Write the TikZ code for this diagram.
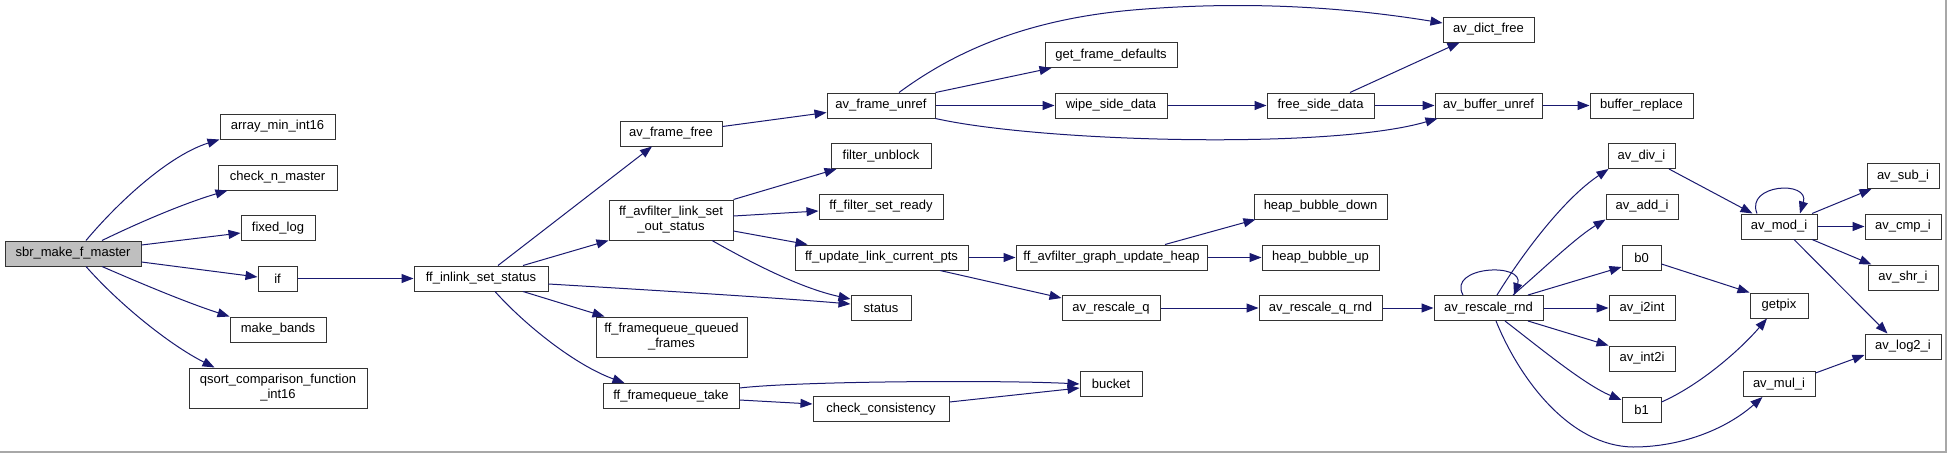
\documentclass[tikz,border=0pt]{standalone}
\usepackage{fontspec}
\setmainfont{Liberation Sans}
\usetikzlibrary{arrows.meta}
\definecolor{edgeblue}{HTML}{191970}
\definecolor{framegray}{HTML}{A8A8A8}
\begin{document}
\begin{tikzpicture}[x=1pt,y=-1pt,
  box/.style={draw=black!80, line width=1pt, fill=white, inner sep=0pt,
    minimum height=25pt, align=center, font=\fontsize{13}{15}\selectfont},
  tall/.style={minimum height=40pt},
  root/.style={fill=black!25},
  edge/.style={draw=edgeblue, line width=1pt, -{Triangle[length=12pt,width=9pt]}}]
\useasboundingbox (0,0) rectangle (1947,453);
\fill[white] (0,0) rectangle (1947,453);
\draw[framegray, line width=1.5pt] (0,452) -- (1946,452) -- (1946,0);

% nodes
\node[box,root,minimum width=136pt] (smf) at (73,253.5) {sbr\_make\_f\_master};
\node[box,minimum width=115pt] (amin) at (277.5,126.5) {array\_min\_int16};
\node[box,minimum width=119pt] (cnm) at (277.5,177.5) {check\_n\_master};
\node[box,minimum width=74pt] (flog) at (278,228) {fixed\_log};
\node[box,minimum width=39pt] (if) at (277.5,278.5) {if};
\node[box,minimum width=96pt] (mb) at (278,329.5) {make\_bands};
\node[box,tall,minimum width=178pt] (qsort) at (278,388) {qsort\_comparison\_function\\\_int16};
\node[box,minimum width=134pt] (fis) at (481,278.5) {ff\_inlink\_set\_status};
\node[box,minimum width=102pt] (aff) at (671,133.5) {av\_frame\_free};
\node[box,tall,minimum width=124pt] (flso) at (671,220) {ff\_avfilter\_link\_set\\\_out\_status};
\node[box,tall,minimum width=151pt] (ffqf) at (671.5,337) {ff\_framequeue\_queued\\\_frames};
\node[box,minimum width=136pt] (fft) at (671,396) {ff\_framequeue\_take};
\node[box,minimum width=108pt] (afu) at (881,105.5) {av\_frame\_unref};
\node[box,minimum width=100pt] (fub) at (881,156) {filter\_unblock};
\node[box,minimum width=124pt] (ffsr) at (881,206.5) {ff\_filter\_set\_ready};
\node[box,minimum width=173pt] (fulcp) at (881.5,257.5) {ff\_update\_link\_current\_pts};
\node[box,minimum width=60pt] (status) at (881,308) {status};
\node[box,minimum width=136pt] (cc) at (881,409) {check\_consistency};
\node[box,minimum width=132pt] (gfd) at (1111,55) {get\_frame\_defaults};
\node[box,minimum width=112pt] (wsd) at (1111,105.5) {wipe\_side\_data};
\node[box,minimum width=191pt] (fgu) at (1111.5,257.5) {ff\_avfilter\_graph\_update\_heap};
\node[box,minimum width=98pt] (arq) at (1111,308) {av\_rescale\_q};
\node[box,minimum width=62pt] (bucket) at (1111,384) {bucket};
\node[box,minimum width=107pt] (fsd) at (1320.5,105.5) {free\_side\_data};
\node[box,minimum width=133pt] (hbd) at (1320.5,206.5) {heap\_bubble\_down};
\node[box,minimum width=117pt] (hbu) at (1320.5,257.5) {heap\_bubble\_up};
\node[box,minimum width=123pt] (arqr) at (1320.5,308) {av\_rescale\_q\_rnd};
\node[box,minimum width=91pt] (adf) at (1488.5,29.5) {av\_dict\_free};
\node[box,minimum width=107pt] (abu) at (1488.5,105.5) {av\_buffer\_unref};
\node[box,minimum width=109pt] (arr) at (1488.5,308) {av\_rescale\_rnd};
\node[box,minimum width=103pt] (br) at (1641.5,105.5) {buffer\_replace};
\node[box,minimum width=67pt] (adiv) at (1641.5,156) {av\_div\_i};
\node[box,minimum width=72pt] (aadd) at (1642,206.5) {av\_add\_i};
\node[box,minimum width=39pt] (b0) at (1641.5,257.5) {b0};
\node[box,minimum width=66pt] (ai2int) at (1642,308) {av\_i2int};
\node[box,minimum width=66pt] (aint2i) at (1642,358.5) {av\_int2i};
\node[box,minimum width=39pt] (b1) at (1641.5,409.5) {b1};
\node[box,minimum width=76pt] (amod) at (1779,226.5) {av\_mod\_i};
\node[box,minimum width=58pt] (getpix) at (1779,305.5) {getpix};
\node[box,minimum width=72pt] (amul) at (1779,384) {av\_mul\_i};
\node[box,minimum width=72pt] (asub) at (1903,176) {av\_sub\_i};
\node[box,minimum width=76pt] (acmp) at (1903,226.5) {av\_cmp\_i};
\node[box,minimum width=70pt] (ashr) at (1903,277.5) {av\_shr\_i};
\node[box,minimum width=76pt] (alog2) at (1903,346.5) {av\_log2\_i};

% edges from sbr_make_f_master
\draw[edge] ([xshift=13pt]smf.north) .. controls (120,200) and (170,155) .. (amin.south west);
\draw[edge] ([xshift=29pt]smf.north) .. controls (140,222) and (185,203) .. ([xshift=10pt]cnm.south west);
\draw[edge] ([yshift=8.5pt]smf.east) -- ([yshift=-5pt]flog.west);
\draw[edge] ([yshift=-8.5pt]smf.east) -- ([yshift=1.5pt]if.west);
\draw[edge] ([xshift=29pt]smf.south) .. controls (140,283) and (185,302) .. (mb.north west);
\draw[edge] ([xshift=13pt]smf.south) .. controls (120,305) and (170,345) .. ([xshift=26pt]qsort.north west);
\draw[edge] (if.east) -- (fis.west);

% ff_inlink_set_status
\draw[edge] ([xshift=17pt]fis.north) -- ([xshift=-19pt]aff.south);
\draw[edge] ([xshift=42pt]fis.north) -- (flso.south west);
\draw[edge] ([yshift=-5.5pt]fis.east) .. controls (650,290) and (780,298) .. ([yshift=4pt]status.west);
\draw[edge] ([xshift=42pt]fis.south) -- ([xshift=9pt]ffqf.north west);
\draw[edge] ([xshift=14pt]fis.south) .. controls (525,325) and (575,365) .. ([xshift=22pt]fft.north west);

% frame free / unref
\draw[edge] ([yshift=7pt]aff.east) -- ([yshift=-7pt]afu.west);
\draw[edge] ([xshift=18pt]afu.north) .. controls (950,55) and (1020,20) .. (1133,10)
  .. controls (1250,0) and (1350,8) .. ([yshift=6.5pt]adf.west);
\draw[edge] (afu.north east) -- ([xshift=7pt]gfd.south west);
\draw[edge] (afu.east) -- (wsd.west);
\draw[edge] (afu.south east) .. controls (1040,142) and (1330,150) .. ([xshift=3pt]abu.south west);
\draw[edge] (wsd.east) -- (fsd.west);
\draw[edge] ([xshift=29.5pt]fsd.north) -- ([xshift=17pt]adf.south west);
\draw[edge] (fsd.east) -- (abu.west);
\draw[edge] (abu.east) -- (br.west);

% ff_avfilter_link_set_out_status
\draw[edge] (flso.north east) -- ([xshift=6pt]fub.south west);
\draw[edge] ([yshift=4pt]flso.east) -- ([yshift=-4.5pt]ffsr.west);
\draw[edge] ([yshift=-11pt]flso.east) -- ([xshift=13pt]fulcp.north west);
\draw[edge] ([xshift=41pt]flso.south) .. controls (750,262) and (800,288) .. ([yshift=9pt]status.west);

% update link / heap / rescale
\draw[edge] (fulcp.east) -- (fgu.west);
\draw[edge] ([xshift=58.5pt]fulcp.south) -- ([yshift=10pt]arq.west);
\draw[edge] ([xshift=53.5pt]fgu.north) -- ([xshift=2pt]hbd.south west);
\draw[edge] (fgu.east) -- (hbu.west);
\draw[edge] (arq.east) -- (arqr.west);
\draw[edge] (arqr.east) -- (arr.west);

% av_rescale_rnd
\draw[edge] ([xshift=-25.5pt]arr.north) .. controls (1447,266) and (1525,262) .. ([xshift=25.5pt]arr.north);
\draw[edge] ([xshift=8.5pt]arr.north) .. controls (1525,250) and (1565,198) .. ([xshift=1pt]adiv.south west);
\draw[edge] ([xshift=24.5pt]arr.north) .. controls (1540,272) and (1575,238) .. (aadd.south west);
\draw[edge] ([xshift=39.5pt]arr.north) -- ([yshift=-9.5pt]b0.west);
\draw[edge] (arr.east) -- (ai2int.west);
\draw[edge] ([xshift=39.5pt]arr.south) -- (aint2i.north west);
\draw[edge] ([xshift=16.5pt]arr.south) .. controls (1540,348) and (1585,385) .. ([yshift=9.5pt]b1.west);
\draw[edge] ([xshift=7.5pt]arr.south) .. controls (1520,380) and (1570,446) .. (1633,447)
  .. controls (1680,447) and (1725,430) .. ([xshift=20pt]amul.south west);

% av_div_i / av_mod_i
\draw[edge] ([xshift=27.5pt]adiv.south) -- ([xshift=12pt]amod.north west);
\draw[edge] ([xshift=-22pt]amod.north) .. controls (1745,184) and (1810,180) .. ([xshift=21pt]amod.north);
\draw[edge] ([xshift=33pt]amod.north) -- ([xshift=5pt]asub.south west);
\draw[edge] (amod.east) -- (acmp.west);
\draw[edge] ([xshift=33pt]amod.south) -- ([xshift=4pt]ashr.north west);
\draw[edge] ([xshift=15pt]amod.south) -- ([xshift=23pt]alog2.north west);
\draw[edge] ([yshift=-6.5pt]b0.east) -- (getpix.north west);
\draw[edge] ([yshift=7.5pt]b1.east) .. controls (1700,385) and (1740,350) .. ([xshift=-12pt]getpix.south);
\draw[edge] ([yshift=11pt]amul.east) -- ([yshift=-8.5pt]alog2.west);

% framequeue take
\draw[edge] ([yshift=8pt]fft.east) .. controls (800,381) and (1000,380) .. (bucket.west);
\draw[edge] ([yshift=-4pt]fft.east) -- ([yshift=5pt]cc.west);
\draw[edge] ([yshift=7pt]cc.east) -- ([yshift=-4pt]bucket.west);
\end{tikzpicture}
\end{document}
